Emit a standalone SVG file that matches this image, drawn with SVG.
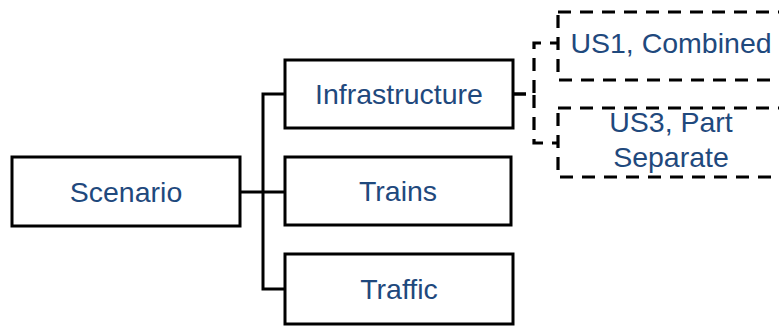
<svg xmlns="http://www.w3.org/2000/svg" width="779" height="327" viewBox="0 0 779 327">
  <style>
    .box { fill: #ffffff; stroke: #000000; stroke-width: 3; }
    .dbox { fill: #ffffff; stroke: #000000; stroke-width: 3.2; stroke-dasharray: 13 9; }
    .link { fill: none; stroke: #000000; stroke-width: 3; }
    .dlink { fill: none; stroke: #000000; stroke-width: 3.2; stroke-dasharray: 13 9; }
    .lbl { font-family: "Liberation Sans", Arial, sans-serif; font-size: 28.5px; fill: #1F497D; text-anchor: middle; }
  </style>

  <!-- connectors -->
  <g id="connectors">
    <path class="link" d="M240,192 H285"/>
    <path class="link" d="M285,94 H263 V289 H285"/>
    <path class="dlink" d="M513,94 H534 V43 H558"/>
    <path class="dlink" d="M513,94 H534 V143 H558"/>
  </g>

  <g id="scenario">
    <rect class="box" x="12" y="157" width="228" height="69"/>
    <text class="lbl" x="126" y="202">Scenario</text>
  </g>

  <g id="infrastructure">
    <rect class="box" x="285" y="60" width="228" height="68"/>
    <text class="lbl" x="399" y="104">Infrastructure</text>
  </g>

  <g id="trains">
    <rect class="box" x="285" y="157" width="226" height="68"/>
    <text class="lbl" x="398" y="201">Trains</text>
  </g>

  <g id="traffic">
    <rect class="box" x="285" y="254" width="228" height="70"/>
    <text class="lbl" x="399" y="299">Traffic</text>
  </g>

  <g id="us1">
    <rect class="dbox" x="558" y="12" width="226" height="68"/>
    <text class="lbl" x="671" y="53">US1, Combined</text>
  </g>

  <g id="us3">
    <rect class="dbox" x="558" y="108" width="226" height="69"/>
    <text class="lbl" x="671" y="132">US3, Part</text>
    <text class="lbl" x="671" y="167">Separate</text>
  </g>
</svg>
